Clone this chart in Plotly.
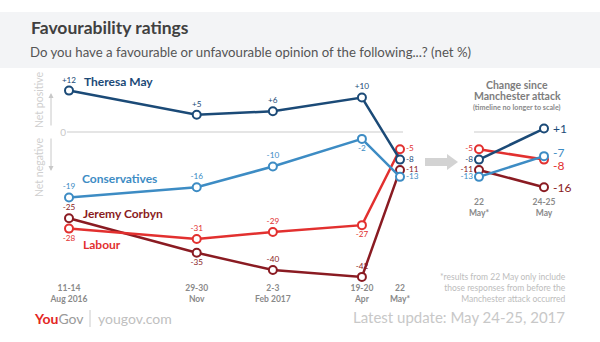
import plotly.graph_objects as go
from datetime import datetime, timedelta

# ---------------- data ----------------
poll_dates = ["2016-08-12 12:00", "2016-11-29 12:00", "2017-02-02 12:00",
              "2017-04-19 12:00", "2017-05-22 00:00"]
poll_labels = ["11-14<br>Aug 2016", "29-30<br>Nov", "2-3<br>Feb 2017",
               "19-20<br>Apr", "22<br>May*"]

may_vals = [12, 5, 6, 10, -8]
con_vals = [-19, -16, -10, -2, -13]
corbyn_vals = [-25, -35, -40, -42, -11]
lab_vals = [-28, -31, -29, -27, -5]

inset_labels = ["22<br>May*", "24-25<br>May"]
may_inset = [-8, 1]
con_inset = [-13, -7]
corbyn_inset = [-11, -16]
lab_inset = [-5, -8]

# ---------------- styles ----------------
FONT = "Lato"
C_MAY = "#1b4a77"
C_CON = "#3d8cc4"
C_COR = "#8a1b22"
C_LAB = "#e2302f"
W, H = 600, 342


def px(x):
    return x / W


def py(y):
    return 1 - y / H


def fmt(v):
    return f"{v:+d}"


# pixel anchors for scales
X_FIRST, X_LAST = 69, 400
DOM_L, DOM_R = 67, 403
ZERO_Y, PPU = 132, 3.45
TOP_Y, BOT_Y = 70, 281

d0 = datetime.fromisoformat(poll_dates[0])
d1 = datetime.fromisoformat(poll_dates[-1])
days = (d1 - d0).total_seconds() / 86400
ppd = (X_LAST - X_FIRST) / days
r0 = d0 - timedelta(days=(X_FIRST - DOM_L) / ppd)
r1 = d0 + timedelta(days=(DOM_R - X_FIRST) / ppd)

y_top = (ZERO_Y - TOP_Y) / PPU
y_bot = -(BOT_Y - ZERO_Y) / PPU

# inset axis
I0, I1 = 479, 544
IDL, IDR = 455, 575
ippu = I1 - I0
ir0 = (IDL - I0) / ippu
ir1 = (IDR - I0) / ippu

series = [
    ("Jeremy Corbyn", corbyn_vals, corbyn_inset, C_COR,
     ["top center", "bottom center", "top center", "top center", "middle right"], 0),
    ("Labour", lab_vals, lab_inset, C_LAB,
     ["bottom center", "top center", "top center", "bottom center", "middle right"], -6),
    ("Conservatives", con_vals, con_inset, C_CON,
     ["top center", "top center", "top center", "bottom center", "middle right"], 4),
    ("Theresa May", may_vals, may_inset, C_MAY,
     ["top center", "top center", "top center", "top center", "middle right"], 0),
]

fig = go.Figure()
annotations = []
for name, vals, ivals, col, tpos, yshift in series:
    fig.add_trace(go.Scatter(
        x=poll_dates, y=vals, mode="lines+markers+text",
        text=[fmt(v) for v in vals], textposition=tpos,
        textfont=dict(family=FONT, size=8.2, color=col),
        line=dict(color=col, width=2.5),
        marker=dict(symbol="circle", size=8, color="white",
                    line=dict(color=col, width=2)),
        cliponaxis=False, showlegend=False, name=name, hoverinfo="skip",
        xaxis="x", yaxis="y"))
    fig.add_trace(go.Scatter(
        x=[0, 1], y=ivals, mode="lines+markers+text",
        text=[fmt(ivals[0]), ""], textposition=["middle left", "middle right"],
        textfont=dict(family=FONT, size=8.2, color=col),
        line=dict(color=col, width=2.5),
        marker=dict(symbol="circle", size=8, color="white",
                    line=dict(color=col, width=2)),
        cliponaxis=False, showlegend=False, name=name, hoverinfo="skip",
        xaxis="x2", yaxis="y"))
    annotations.append(dict(
        x=1, y=ivals[1], xref="x2", yref="y", text=fmt(ivals[1]),
        showarrow=False, xanchor="left", yanchor="middle", xshift=7, yshift=yshift,
        font=dict(family=FONT, size=12, color=col)))

# series name labels
for txt, x, y, col in [("Theresa May", 82, 82, C_MAY), ("Conservatives", 80, 178, C_CON),
                       ("Jeremy Corbyn", 81, 213, C_COR), ("Labour", 81, 244, C_LAB)]:
    annotations.append(dict(x=px(x), y=py(y), xref="paper", yref="paper",
                            text=f"<b>{txt}</b>", showarrow=False,
                            xanchor="left", yanchor="middle",
                            font=dict(family=FONT, size=12, color=col)))

# title & subtitle
annotations += [
    dict(x=px(29), y=py(27), xref="paper", yref="paper", text="<b>Favourability ratings</b>",
         showarrow=False, xanchor="left", yanchor="middle",
         font=dict(family=FONT, size=17.5, color="#404040")),
    dict(x=px(28), y=py(52), xref="paper", yref="paper",
         text="Do you have a favourable or unfavourable opinion of the following...? (net %)",
         showarrow=False, xanchor="left", yanchor="middle",
         font=dict(family=FONT, size=13.2, color="#555555")),
]

# Net positive / negative
annotations += [
    dict(x=px(39), y=py(100), xref="paper", yref="paper", text="Net positive",
         textangle=-90, showarrow=False, xanchor="center", yanchor="middle",
         font=dict(family=FONT, size=10.5, color="#cfcfcf")),
    dict(x=px(39), y=py(167), xref="paper", yref="paper", text="Net negative",
         textangle=-90, showarrow=False, xanchor="center", yanchor="middle",
         font=dict(family=FONT, size=10.5, color="#cfcfcf")),
    dict(x=px(51), y=py(93), xref="paper", yref="paper", ax=0, ay=34,
         axref="pixel", ayref="pixel", text="", showarrow=True, arrowhead=2,
         arrowsize=1, arrowwidth=1, arrowcolor="#c8c8c8"),
    dict(x=px(51), y=py(171), xref="paper", yref="paper", ax=0, ay=-34,
         axref="pixel", ayref="pixel", text="", showarrow=True, arrowhead=2,
         arrowsize=1, arrowwidth=1, arrowcolor="#c8c8c8"),
]

# inset title
annotations += [
    dict(x=px(517), y=py(85), xref="paper", yref="paper",
         text="<b>Change since</b>", showarrow=False,
         xanchor="center", yanchor="middle",
         font=dict(family=FONT, size=10.5, color="#7d7d7d")),
    dict(x=px(517), y=py(96), xref="paper", yref="paper",
         text="<b>Manchester attack</b>", showarrow=False,
         xanchor="center", yanchor="middle",
         font=dict(family=FONT, size=10.5, color="#7d7d7d")),
    dict(x=px(517), y=py(107.5), xref="paper", yref="paper",
         text="<b>(timeline no longer to scale)</b>", showarrow=False,
         xanchor="center", yanchor="middle",
         font=dict(family=FONT, size=7.2, color="#8a8a8a")),
]

# footnote & footer
annotations += [
    dict(x=px(568), y=py(288), xref="paper", yref="paper",
         text="*results from 22 May only include<br>those responses from before the<br>Manchester attack occurred",
         showarrow=False, xanchor="right", yanchor="middle", align="right",
         font=dict(family=FONT, size=8.5, color="#bdbdbd")),
    dict(x=px(567), y=py(317), xref="paper", yref="paper",
         text="Latest update: May 24-25, 2017", showarrow=False,
         xanchor="right", yanchor="middle",
         font=dict(family=FONT, size=15, color="#c8c8c8")),
    dict(x=px(32), y=py(318), xref="paper", yref="paper",
         text="<b><span style='color:#e3271f'>You</span></b><span style='color:#9a9a9a'>Gov</span>",
         showarrow=False, xanchor="left", yanchor="middle",
         font=dict(family=FONT, size=14, color="#9a9a9a")),
    dict(x=px(96), y=py(318), xref="paper", yref="paper", text="yougov.com",
         showarrow=False, xanchor="left", yanchor="middle",
         font=dict(family=FONT, size=14, color="#c0c0c0")),
]

arrow_pts = [(425, 158), (447, 158), (447, 154), (458, 162), (447, 170), (447, 166), (425, 166)]
arrow_path = "M " + " L ".join(f"{px(a)} {py(b)}" for a, b in arrow_pts) + " Z"

shapes = [
    dict(type="rect", xref="paper", yref="paper", x0=0, x1=1, y0=py(68), y1=py(12),
         fillcolor="#f3f4f6", line=dict(width=0), layer="below"),
    dict(type="line", xref="paper", yref="y", x0=px(67), x1=px(403), y0=0, y1=0,
         line=dict(color="#dcdcdc", width=1.5), layer="below"),
    dict(type="line", xref="paper", yref="y", x0=px(474), x1=px(535), y0=0, y1=0,
         line=dict(color="#dcdcdc", width=1.5), layer="below"),
    dict(type="path", xref="paper", yref="paper", path=arrow_path,
         fillcolor="#d3d3d3", line=dict(width=0)),
    dict(type="line", xref="paper", yref="paper", x0=px(90), x1=px(90), y0=py(310), y1=py(327),
         line=dict(color="#cccccc", width=1)),
]

fig.update_layout(
    template="none",
    width=W, height=H, autosize=False,
    margin=dict(l=0, r=0, t=0, b=0, pad=0, autoexpand=False),
    paper_bgcolor="white", plot_bgcolor="rgba(0,0,0,0)",
    font=dict(family=FONT),
    xaxis=dict(domain=[px(DOM_L), px(DOM_R)], type="date", range=[r0, r1],
               tickvals=poll_dates, ticktext=poll_labels, anchor="y",
               showgrid=False, zeroline=False, showline=False, ticks="",
               automargin=False,
               tickfont=dict(family=FONT, size=8.5, color="#8a8a8a", weight="bold")),
    xaxis2=dict(domain=[px(IDL), px(IDR)], range=[ir0, ir1], anchor="free",
                position=py(195), tickvals=[0, 1], ticktext=inset_labels,
                showgrid=False, zeroline=False, showline=False, ticks="",
                automargin=False,
                tickfont=dict(family=FONT, size=8.5, color="#8a8a8a", weight="bold")),
    yaxis=dict(domain=[py(BOT_Y), py(TOP_Y)], range=[y_bot, y_top], anchor="x",
               tickvals=[0], ticktext=["0"], showgrid=False, zeroline=False,
               showline=False, ticks="", automargin=False,
               tickfont=dict(family=FONT, size=10, color="#c8c8c8")),
    annotations=annotations,
    shapes=shapes,
)

fig.write_html("out.html")
